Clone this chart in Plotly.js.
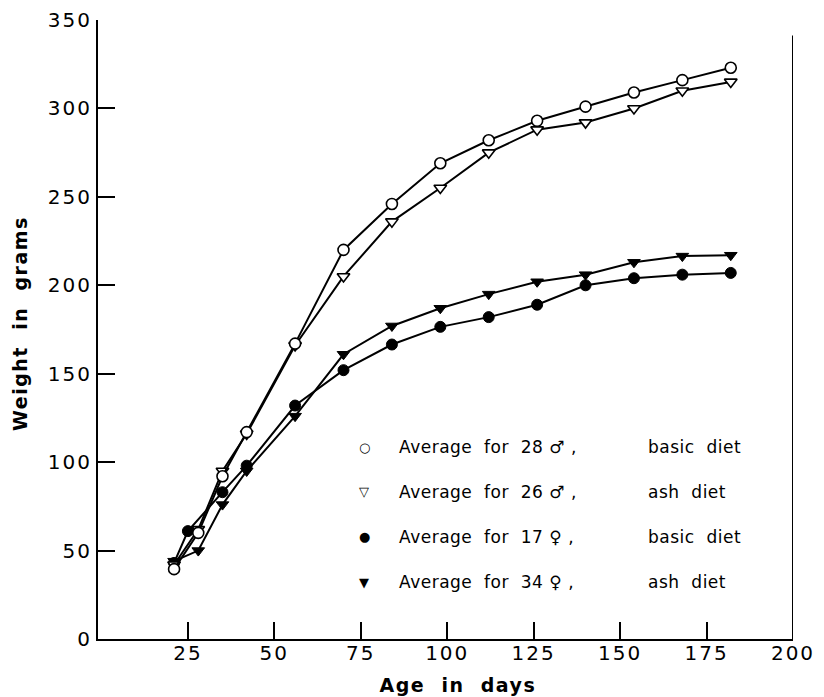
<!DOCTYPE html>
<html>
<head>
<meta charset="utf-8">
<script src="https://cdn.plot.ly/plotly-3.0.1.min.js"></script>
<style>
  html, body { margin: 0; padding: 0; background: #fff; }
  #chart { width: 824px; height: 697px; }
  .xtick text, .ytick text { letter-spacing: 2px; }
  .annotation-text { letter-spacing: 0.5px; }
  .annotation[data-index="0"] text, .annotation[data-index="1"] text { letter-spacing: 1.5px; }
</style>
</head>
<body>
<div id="chart"></div>
<script>
// Age in days at which the rats were weighed
const ages = [21, 28, 35, 42, 56, 70, 84, 98, 112, 126, 140, 154, 168, 182];
const femaleBasicAges = [21, 25, 35, 42, 56, 70, 84, 98, 112, 126, 140, 154, 168, 182];

// Average weight in grams
const maleBasic   = [39.5, 60, 92, 117, 167, 220, 246, 269, 282, 293, 301, 309, 316, 323];
const maleAsh     = [42, 62, 95, 116, 166, 205, 236, 255, 275, 288, 292, 300, 310, 315];
const femaleBasic = [43, 61, 83, 98, 132, 152, 166.5, 176.5, 182, 189, 200, 204, 206, 207];
const femaleAsh   = [44, 50, 76, 95, 126, 161, 177, 187, 195, 202, 206, 213, 216.5, 217];

// Ticks
const xTicks = [25, 50, 75, 100, 125, 150, 175, 200];
const yTicks = [0, 50, 100, 150, 200, 250, 300, 350];

// Legend texts
const legendSymbols = ['\u25CB', '\u25BD', '\u25CF', '\u25BC'];
const legendNames = ['Average\u00A0 for\u00A0 28 \u2642 ,', 'Average\u00A0 for\u00A0 26 \u2642 ,', 'Average\u00A0 for\u00A0 17 \u2640 ,', 'Average\u00A0 for\u00A0 34 \u2640 ,'];
const legendDiets = ['basic\u00A0 diet', 'ash\u00A0 diet', 'basic\u00A0 diet', 'ash\u00A0 diet'];

const xTitle = 'Age\u00A0 in\u00A0 days';
const yTitle = 'Weight\u00A0 in\u00A0 grams';

const FONT = 'DejaVu Sans, sans-serif';
const lineStyle = { color: '#000', width: 2 };

const traces = [
  { x: femaleBasicAges, y: femaleBasic, mode: 'lines+markers', line: lineStyle,
    marker: { symbol: 'circle', size: 11, color: '#000', line: { color: '#000', width: 1 } } },
  { x: ages, y: femaleAsh, mode: 'lines+markers', line: lineStyle,
    marker: { symbol: 'triangle-down', size: 11, color: '#000', line: { color: '#000', width: 1 } } },
  { x: ages, y: maleAsh, mode: 'lines+markers', line: lineStyle,
    marker: { symbol: 'triangle-down', size: 11, color: '#fff', line: { color: '#000', width: 1.6 } } },
  { x: ages, y: maleBasic, mode: 'lines+markers', line: lineStyle,
    marker: { symbol: 'circle', size: 11, color: '#fff', line: { color: '#000', width: 1.6 } } }
];

const rowY = [0.310, 0.238, 0.165, 0.092];
const annotations = [
  { text: xTitle, xref: 'paper', yref: 'paper', x: 0.518, y: -0.075, xanchor: 'center', yanchor: 'middle',
    showarrow: false, font: { family: FONT, size: 19, color: '#000', weight: 'bold' } },
  { text: yTitle, xref: 'paper', yref: 'paper', x: -0.112, y: 0.51, xanchor: 'center', yanchor: 'middle',
    textangle: -90, showarrow: false, font: { family: FONT, size: 19, color: '#000', weight: 'bold' } }
];
for (let i = 0; i < legendNames.length; i++) {
  annotations.push({ text: legendSymbols[i], xref: 'paper', yref: 'paper', x: 0.384, y: rowY[i],
    xanchor: 'center', yanchor: 'middle', showarrow: false, font: { family: FONT, size: 13, color: '#000' } });
  annotations.push({ text: legendNames[i], xref: 'paper', yref: 'paper', x: 0.430, y: rowY[i],
    xanchor: 'left', yanchor: 'middle', showarrow: false, font: { family: FONT, size: 17, color: '#000' } });
  annotations.push({ text: legendDiets[i], xref: 'paper', yref: 'paper', x: 0.789, y: rowY[i],
    xanchor: 'left', yanchor: 'middle', showarrow: false, font: { family: FONT, size: 17, color: '#000' } });
}

const layout = {
  width: 824, height: 697,
  margin: { l: 98, r: 31, t: 20, b: 58 },
  paper_bgcolor: '#fff', plot_bgcolor: '#fff',
  showlegend: false,
  font: { family: FONT, color: '#000' },
  xaxis: {
    range: [-1, 200], tickmode: 'array', tickvals: xTicks, ticktext: xTicks.map(String),
    ticks: 'inside', ticklen: 17, tickwidth: 2, tickcolor: '#000',
    showline: true, linewidth: 2, linecolor: '#000',
    showgrid: false, zeroline: false, ticklabelstandoff: -5,
    tickfont: { family: FONT, size: 20, color: '#000' }
  },
  yaxis: {
    range: [0, 350], tickmode: 'array', tickvals: yTicks, ticktext: yTicks.map(String),
    ticks: 'inside', ticklen: 17, tickwidth: 2, tickcolor: '#000',
    showline: true, linewidth: 2, linecolor: '#000',
    showgrid: false, zeroline: false,
    tickfont: { family: FONT, size: 20, color: '#000' }
  },
  shapes: [
    { type: 'line', xref: 'x', yref: 'paper', x0: 200, x1: 200, y0: 0, y1: 0.975,
      line: { color: '#000', width: 2 } }
  ],
  annotations: annotations
};

Plotly.newPlot('chart', traces, layout, { displayModeBar: false, staticPlot: true });
</script>
</body>
</html>
